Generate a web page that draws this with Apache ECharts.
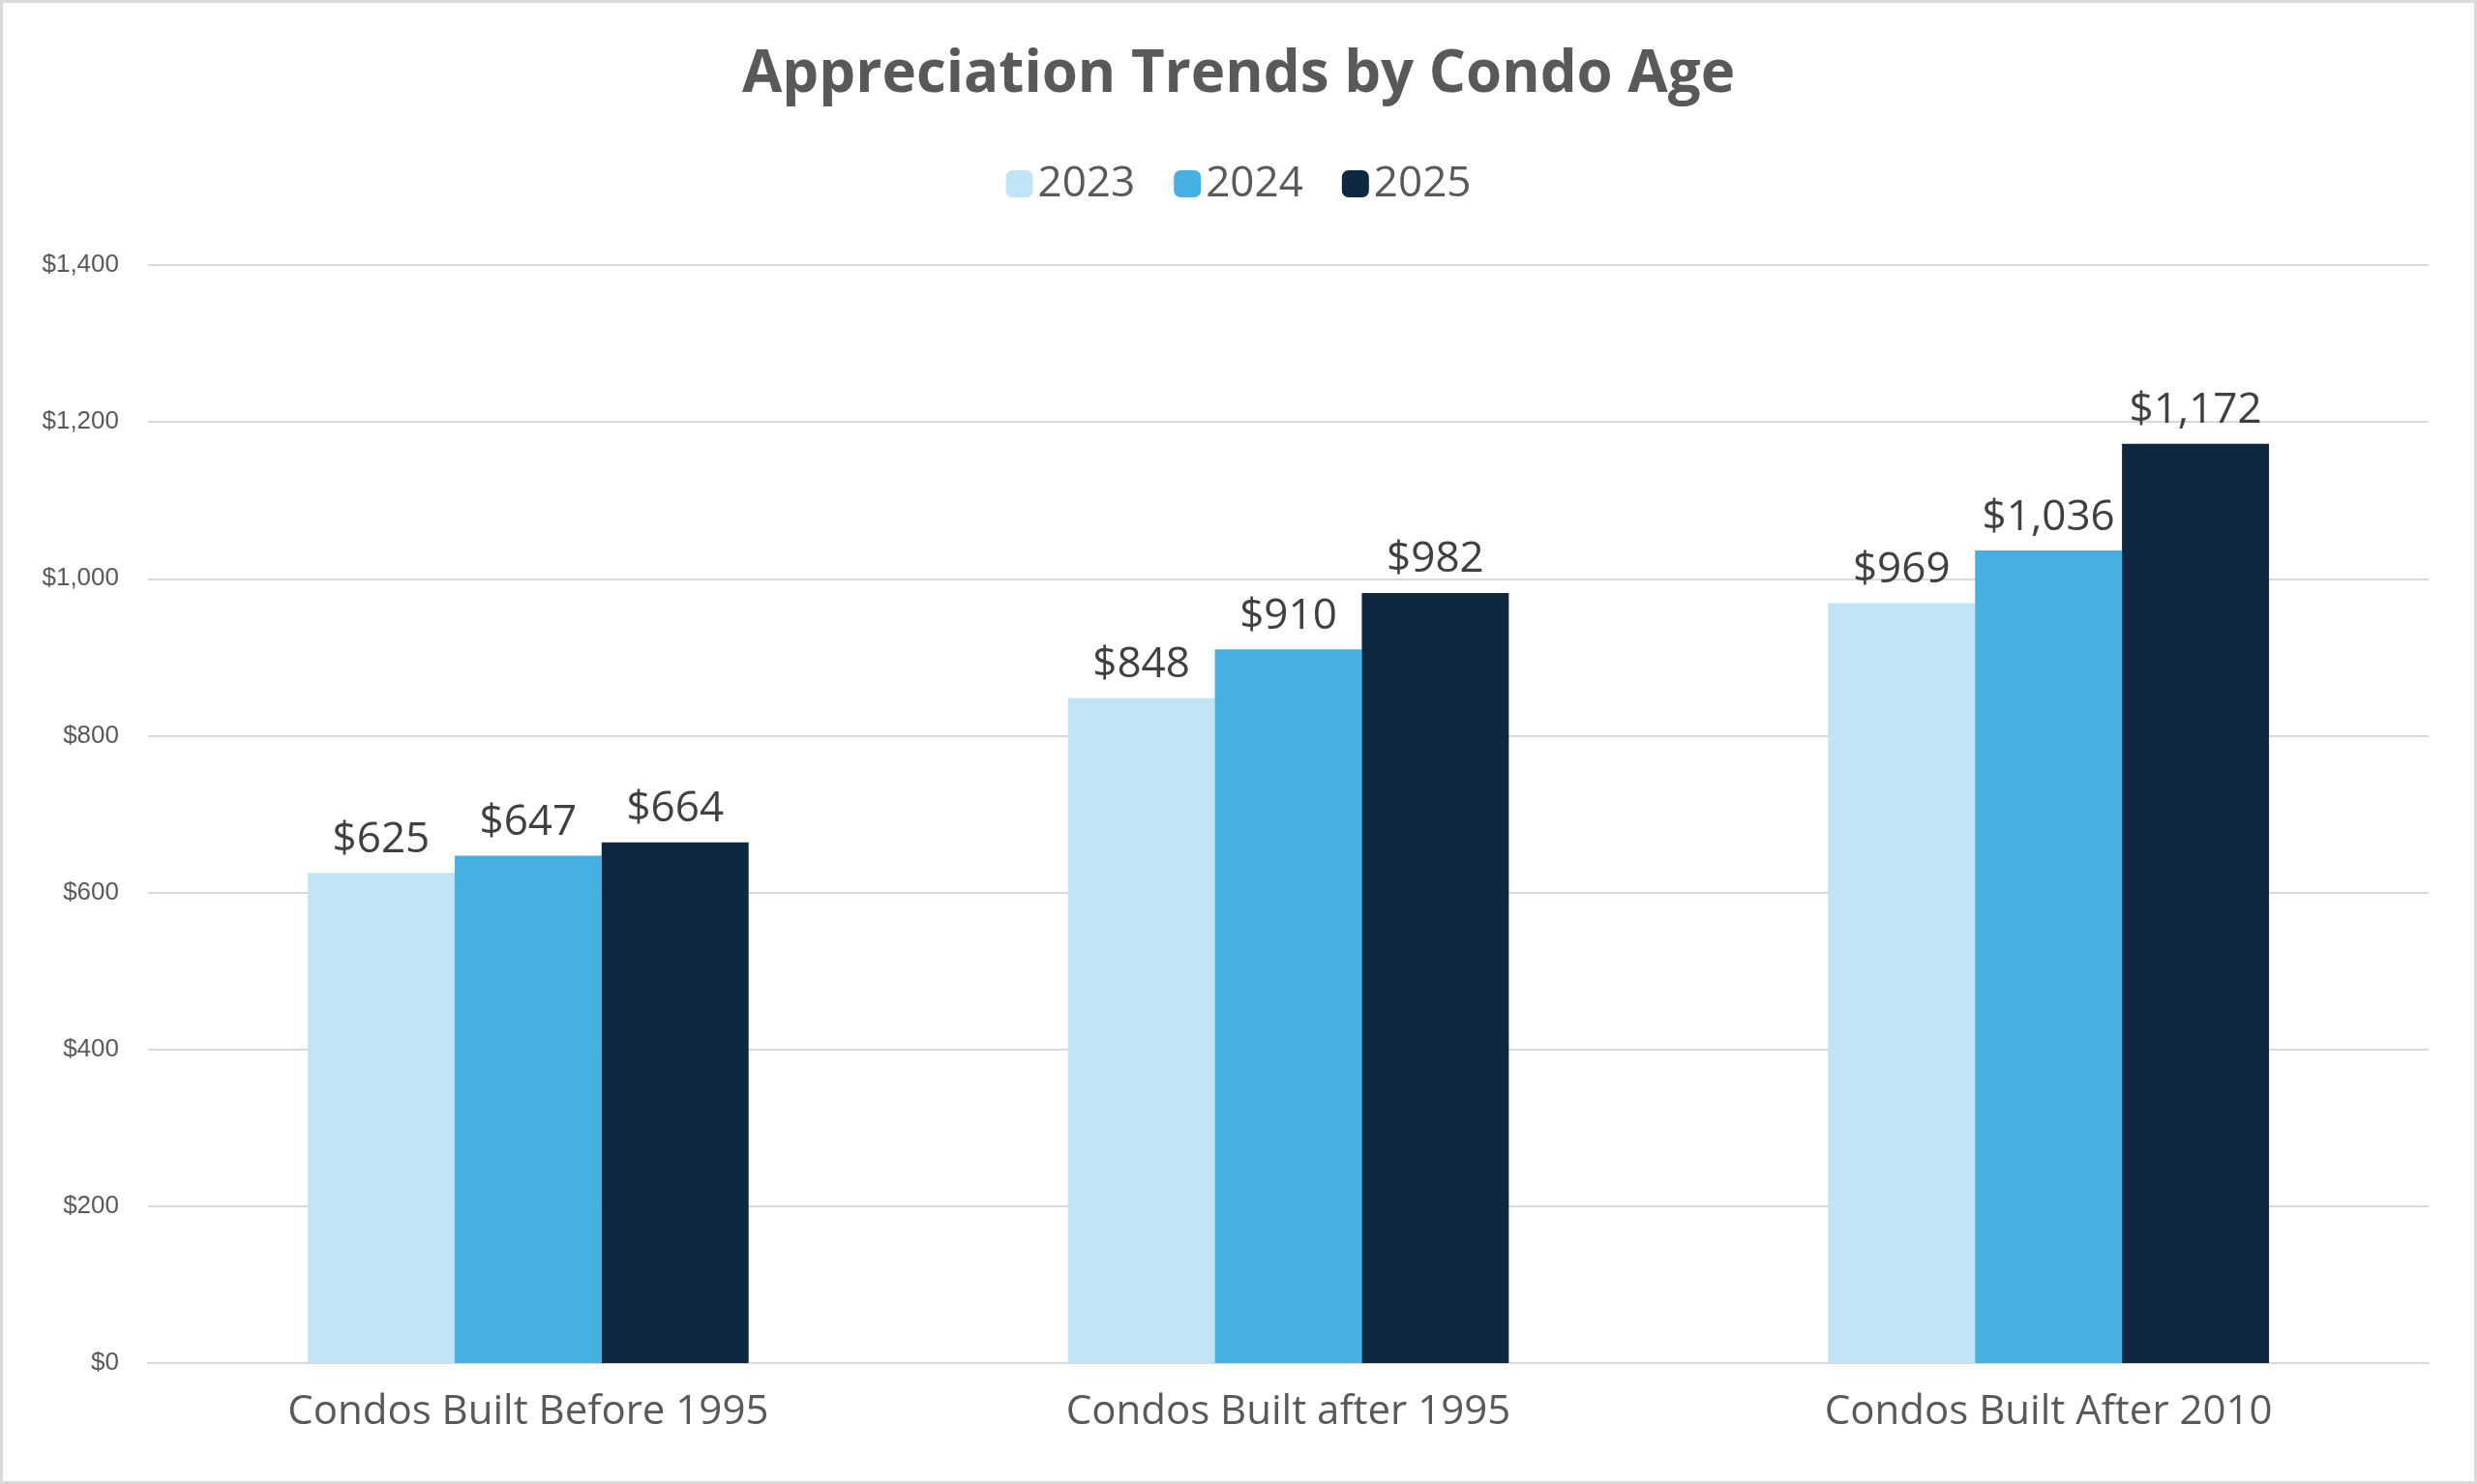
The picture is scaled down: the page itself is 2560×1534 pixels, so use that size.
<!DOCTYPE html><html><head><meta charset="utf-8"><script src="https://cdn.jsdelivr.net/npm/echarts@6/dist/echarts.min.js"></script>
<style>html,body{margin:0;background:#fff}#c{width:2560px;height:1534px;box-sizing:border-box;border:3px solid #d9d9d9}</style></head><body><div id="c"></div><script>
const categories=["Condos Built Before 1995","Condos Built after 1995","Condos Built After 2010"];
const years=["2023","2024","2025"];
const v2023=[625,848,969];
const v2024=[647,910,1036];
const v2025=[664,982,1172];
const colors=["#C1E4F5","#45B0E1","#0E2841"];
const fmt=v=>"$"+v.toLocaleString("en-US");
const ch=echarts.init(document.getElementById('c'));
ch.setOption({
title:{text:"Appreciation Trends by Condo Age",left:"center",top:40,textStyle:{fontFamily:"Open Sans",fontWeight:"bold",fontSize:60,color:"#595959"}},
legend:{top:160,left:"center",itemWidth:28,itemHeight:28,itemGap:40,textStyle:{fontFamily:"Open Sans",fontSize:44,color:"#595959"},data:years},
grid:{left:150,right:47,top:271,bottom:122},
xAxis:{type:"category",data:categories,axisTick:{show:false},axisLine:{lineStyle:{color:"#d9d9d9",width:2}},axisLabel:{fontFamily:"Open Sans",fontSize:42,color:"#595959",margin:30}},
yAxis:{type:"value",min:0,max:1400,interval:200,axisLabel:{formatter:fmt,fontFamily:"Liberation Sans",fontSize:26,color:"#595959",margin:30},splitLine:{lineStyle:{color:"#d9d9d9",width:2}}},
series:[v2023,v2024,v2025].map((d,i)=>({name:years[i],type:"bar",data:d,barGap:"0%",barCategoryGap:"42%",itemStyle:{color:colors[i]},label:{show:true,position:"top",formatter:p=>fmt(p.value),fontFamily:"Open Sans",fontSize:44,color:"#404040",distance:12}}))
});
</script></body></html>
